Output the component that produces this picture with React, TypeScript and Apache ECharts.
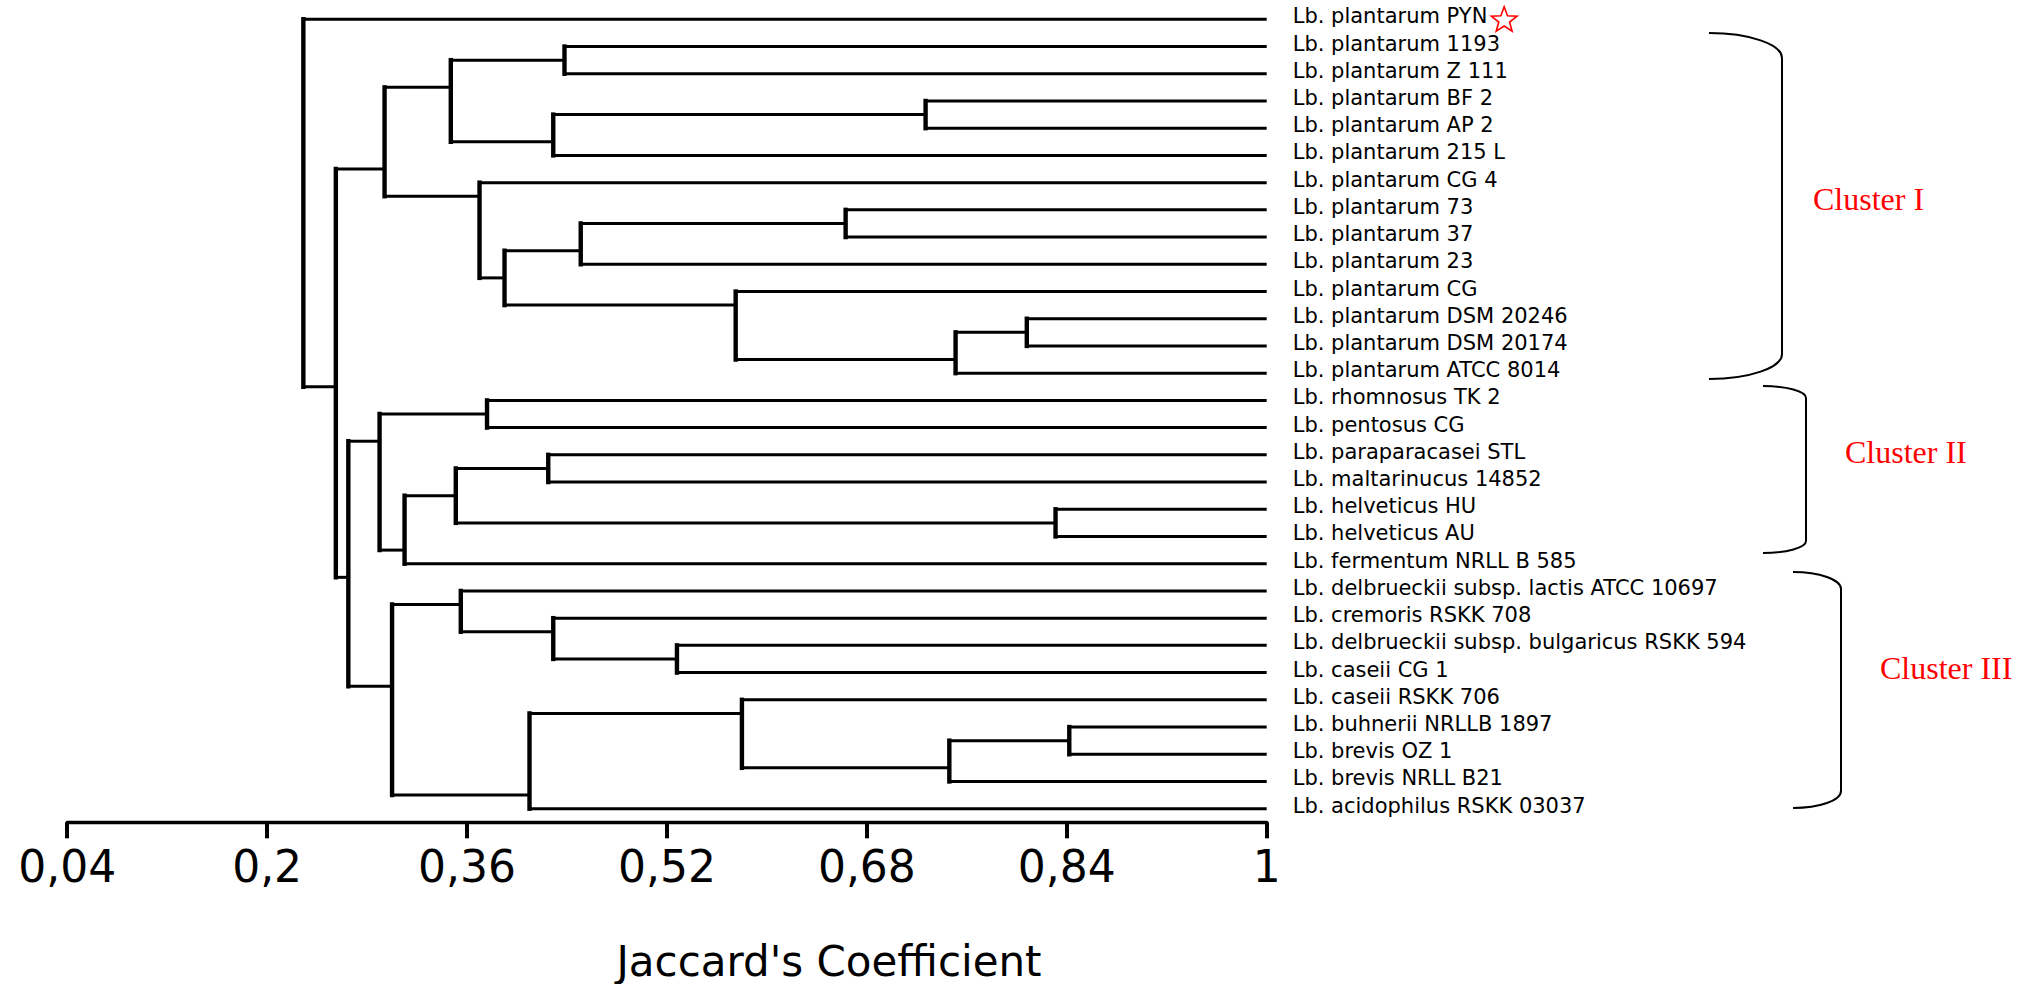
import React, { useEffect, useRef } from 'react';
import * as echarts from 'echarts';

// ---------------- data ----------------
const leafNames: string[] = [
  'Lb. plantarum PYN',
  'Lb. plantarum 1193',
  'Lb. plantarum Z 111',
  'Lb. plantarum BF 2',
  'Lb. plantarum AP 2',
  'Lb. plantarum 215 L',
  'Lb. plantarum CG 4',
  'Lb. plantarum 73',
  'Lb. plantarum 37',
  'Lb. plantarum 23',
  'Lb. plantarum CG',
  'Lb. plantarum DSM 20246',
  'Lb. plantarum DSM 20174',
  'Lb. plantarum ATCC 8014',
  'Lb. rhomnosus TK 2',
  'Lb. pentosus CG',
  'Lb. paraparacasei STL',
  'Lb. maltarinucus 14852',
  'Lb. helveticus HU',
  'Lb. helveticus AU',
  'Lb. fermentum NRLL B 585',
  'Lb. delbrueckii subsp. lactis ATCC 10697',
  'Lb. cremoris RSKK 708',
  'Lb. delbrueckii subsp. bulgaricus RSKK 594',
  'Lb. caseii CG 1',
  'Lb. caseii RSKK 706',
  'Lb. buhnerii NRLLB 1897',
  'Lb. brevis OZ 1',
  'Lb. brevis NRLL B21',
  'Lb. acidophilus RSKK 03037',
];

// linkage: [first child id, second child id, Jaccard similarity]; ids 0..29 are leaves, 30+ are merges in order
const merges: [number, number, number][] = [
  [3, 4, 0.727], // 30
  [30, 5, 0.429], // 31
  [1, 2, 0.438], // 32
  [32, 31, 0.347], // 33
  [11, 12, 0.808], // 34
  [34, 13, 0.751], // 35
  [10, 35, 0.575], // 36
  [7, 8, 0.663], // 37
  [37, 9, 0.451], // 38
  [38, 36, 0.39], // 39
  [6, 39, 0.37], // 40
  [33, 40, 0.294], // 41
  [14, 15, 0.376], // 42
  [16, 17, 0.425], // 43
  [18, 19, 0.831], // 44
  [43, 44, 0.351], // 45
  [45, 20, 0.31], // 46
  [42, 46, 0.29], // 47
  [23, 24, 0.528], // 48
  [22, 48, 0.429], // 49
  [21, 49, 0.355], // 50
  [26, 27, 0.842], // 51
  [51, 28, 0.746], // 52
  [25, 52, 0.58], // 53
  [53, 29, 0.41], // 54
  [50, 54, 0.3], // 55
  [47, 55, 0.265], // 56
  [41, 56, 0.255], // 57
  [0, 57, 0.229], // 58
];

const leafSimilarity = 1;
const xTicks = [0.04, 0.2, 0.36, 0.52, 0.68, 0.84, 1];
const axisTitle = "Jaccard's Coefficient";
const clusterNames = ['Cluster I', 'Cluster II', 'Cluster III'];
const markedLeaf = 0;

// ---------------- tree -> segments ----------------
function buildSegments(): number[][] {
  const n = leafNames.length;
  const nodeX: number[] = [];
  const nodeY: number[] = [];
  const lastLeaf: number[] = [];
  const parent: number[] = [];
  for (let i = 0; i < n; i++) {
    nodeX[i] = leafSimilarity;
    nodeY[i] = i;
    lastLeaf[i] = i;
  }
  merges.forEach(([a, b, v], k) => {
    const id = n + k;
    nodeX[id] = v;
    nodeY[id] = lastLeaf[a] + 0.5;
    lastLeaf[id] = lastLeaf[b];
    parent[a] = id;
    parent[b] = id;
  });
  const segs: number[][] = [];
  const total = n + merges.length;
  for (let id = 0; id < total; id++) {
    const p = parent[id];
    if (p !== undefined) {
      segs.push([nodeX[p], nodeY[id], nodeX[id], nodeY[id], 0]);
    }
  }
  merges.forEach(([a, b, v]) => {
    segs.push([v, nodeY[a], v, nodeY[b], 1]);
  });
  return segs;
}

function brace(x0: number, xv: number, yT: number, yB: number, h: number) {
  const k = 0.552;
  const w = xv - x0;
  const style = { stroke: '#000', lineWidth: 2, fill: 'none' };
  return [
    {
      type: 'bezierCurve',
      shape: { x1: x0, y1: yT, cpx1: x0 + k * w, cpy1: yT, cpx2: xv, cpy2: yT + (1 - k) * h, x2: xv, y2: yT + h },
      style,
      silent: true,
    },
    { type: 'line', shape: { x1: xv, y1: yT + h, x2: xv, y2: yB - h }, style, silent: true },
    {
      type: 'bezierCurve',
      shape: { x1: xv, y1: yB - h, cpx1: xv, cpy1: yB - (1 - k) * h, cpx2: x0 + k * w, cpy2: yB, x2: x0, y2: yB },
      style,
      silent: true,
    },
  ];
}

function clusterText(text: string, x: number, y: number) {
  return {
    type: 'text',
    x,
    y,
    silent: true,
    style: {
      text,
      fill: '#ff0000',
      font: '32px "Liberation Serif", "Times New Roman", serif',
      lineHeight: 34,
      align: 'left',
      verticalAlign: 'middle',
      textAlign: 'left',
      textVerticalAlign: 'middle',
    },
  };
}

const SANS = '"DejaVu Sans", "Liberation Sans", Arial, sans-serif';
const LABEL_SIZE = 21;
const LABEL_MARGIN = 26;

function measure(text: string, font: string): number {
  const c = document.createElement('canvas').getContext('2d');
  if (!c) return text.length * 11;
  c.font = font;
  return c.measureText(text).width;
}

function starPoints(cx: number, cy: number, R: number, r: number): number[][] {
  const pts: number[][] = [];
  for (let i = 0; i < 10; i++) {
    const rad = i % 2 === 0 ? R : r;
    const a = -Math.PI / 2 + (i * Math.PI) / 5;
    pts.push([cx + rad * Math.cos(a), cy + rad * Math.sin(a)]);
  }
  return pts;
}

export default function App() {
  const ref = useRef<HTMLDivElement>(null);

  useEffect(() => {
    document.body.style.margin = '0';
    if (!ref.current) return;
    const chart = echarts.init(ref.current, undefined, { renderer: 'svg' });
    const segments = buildSegments();
    const markedWidth = measure(leafNames[markedLeaf], `${LABEL_SIZE}px ${SANS}`);

    const option: any = {
      animation: false,
      backgroundColor: '#ffffff',
      grid: {
        left: 67.2,
        right: 764.3,
        top: 5.7,
        bottom: 161.7,
        containLabel: false,
        outerBoundsMode: 'none',
      },
      xAxis: {
        type: 'value',
        min: 0.04,
        max: 1,
        position: 'bottom',
        axisLine: { show: true, onZero: false, lineStyle: { color: '#000', width: 3.4 } },
        axisTick: { show: true, length: 16, customValues: xTicks, lineStyle: { color: '#000', width: 4 } },
        axisLabel: {
          customValues: xTicks,
          margin: 22,
          fontSize: 44,
          fontFamily: SANS,
          color: '#000',
          formatter: (v: number) => String(+Number(v).toFixed(2)).replace('.', ','),
        },
        splitLine: { show: false },
      },
      yAxis: [
        {
          type: 'value',
          min: -0.5,
          max: 29.5,
          inverse: true,
          show: false,
          splitLine: { show: false },
        },
        {
          type: 'category',
          data: leafNames,
          inverse: true,
          position: 'right',
          axisLine: { show: false, onZero: false },
          axisTick: { show: false },
          splitLine: { show: false },
          axisLabel: {
            interval: 0,
            margin: LABEL_MARGIN,
            fontSize: LABEL_SIZE,
            fontFamily: SANS,
            color: '#000',
            padding: [0, 0, 6, 0],
            rich: {
              n: { fontSize: LABEL_SIZE, fontFamily: SANS, color: '#000' },
            },
          },
        },
      ],
      series: [
        {
          type: 'custom',
          xAxisIndex: 0,
          yAxisIndex: 0,
          silent: true,
          clip: false,
          encode: { x: [0, 2], y: [1, 3] },
          data: segments,
          renderItem: (_params: any, api: any) => {
            const p1 = api.coord([api.value(0), api.value(1)]);
            const p2 = api.coord([api.value(2), api.value(3)]);
            const vertical = api.value(4) === 1;
            return {
              type: 'line',
              shape: { x1: p1[0], y1: p1[1], x2: p2[0], y2: p2[1] },
              style: {
                stroke: '#000',
                lineWidth: vertical ? 4.4 : 3,
                lineCap: vertical ? 'square' : 'butt',
              },
            };
          },
        },
        {
          // red outline star after the marked strain's label
          type: 'custom',
          xAxisIndex: 0,
          yAxisIndex: 0,
          silent: true,
          clip: false,
          data: [[leafSimilarity, markedLeaf]],
          renderItem: (_params: any, api: any) => {
            const p = api.coord([api.value(0), api.value(1)]);
            const R = 13.5;
            const cx = p[0] + LABEL_MARGIN + markedWidth + 4 + R * Math.sin((72 * Math.PI) / 180);
            const cy = p[1] + 1;
            return {
              type: 'polygon',
              shape: { points: starPoints(cx, cy, R, R * 0.42) },
              style: { stroke: '#ff0000', lineWidth: 1.6, fill: '#ffffff', lineJoin: 'miter' },
            };
          },
        },
      ],
      graphic: [
        ...brace(1709, 1782, 33, 379, 25),
        ...brace(1763, 1806, 386, 553, 12),
        ...brace(1793, 1841, 572, 808, 17),
        clusterText(clusterNames[0], 1813, 199),
        clusterText(clusterNames[1], 1845, 452),
        clusterText(clusterNames[2], 1880, 668),
        {
          type: 'text',
          x: 829,
          y: 961,
          silent: true,
          style: {
            text: axisTitle,
            fill: '#000',
            font: `42px ${SANS}`,
            lineHeight: 42,
            align: 'center',
            verticalAlign: 'middle',
            textAlign: 'center',
            textVerticalAlign: 'middle',
          },
        },
      ],
    };

    chart.setOption(option);
    return () => {
      chart.dispose();
    };
  }, []);

  return (
    <div
      ref={ref}
      style={{ position: 'absolute', left: 0, top: 0, width: 2031, height: 984, background: '#fff' }}
    />
  );
}
